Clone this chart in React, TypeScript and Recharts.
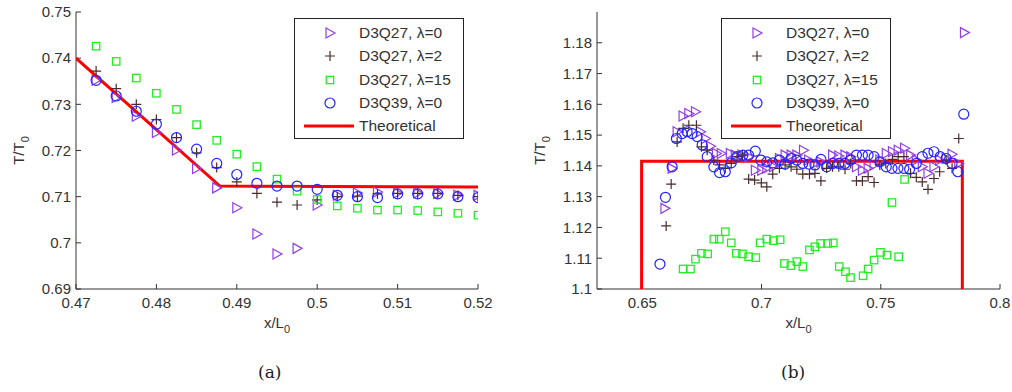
import React from 'react'
import { ComposedChart, Scatter, XAxis, YAxis, Label } from 'recharts'

// panel (a)
const aXTicks = [0.47, 0.48, 0.49, 0.5, 0.51, 0.52]
const aYTicks = [0.69, 0.7, 0.71, 0.72, 0.73, 0.74, 0.75]
const aX = [0.4725, 0.475, 0.4775, 0.48, 0.4825, 0.485, 0.4875, 0.49, 0.4925, 0.495, 0.4975, 0.5, 0.5025, 0.505, 0.5075, 0.51, 0.5125, 0.515, 0.5175, 0.52]
const aQ27L0 = [0.7352, 0.7315, 0.7274, 0.7239, 0.7201, 0.7161, 0.7119, 0.7076, 0.7019, 0.6976, 0.6988, 0.7082, 0.7103, 0.7108, 0.711, 0.7108, 0.7108, 0.7107, 0.7103, 0.7103]
const aQ27L2 = [0.7372, 0.7334, 0.73, 0.7267, 0.7228, 0.7195, 0.7163, 0.7132, 0.7107, 0.7088, 0.7082, 0.7093, 0.71, 0.7101, 0.7106, 0.7107, 0.7107, 0.7107, 0.7103, 0.71]
const aQ27L15 = [0.7426, 0.7393, 0.7357, 0.7324, 0.7289, 0.7256, 0.7222, 0.7192, 0.7165, 0.7138, 0.7112, 0.7094, 0.708, 0.7075, 0.7071, 0.7071, 0.707, 0.7067, 0.7064, 0.706]
const aQ39L0 = [0.7352, 0.7318, 0.7285, 0.7257, 0.7228, 0.7203, 0.7172, 0.7148, 0.7129, 0.7123, 0.7123, 0.7116, 0.7103, 0.71, 0.7098, 0.7106, 0.7106, 0.7106, 0.71, 0.7098]
const aTheoryX = [0.47, 0.4879, 0.52]
const aTheoryY = [0.74, 0.7123, 0.7121]

// panel (b)
const bXTicks = [0.65, 0.7, 0.75, 0.8]
const bYTicks = [1.1, 1.11, 1.12, 1.13, 1.14, 1.15, 1.16, 1.17, 1.18]
const bQ27L0X = [0.6595, 0.6625, 0.6646, 0.6671, 0.6695, 0.6723, 0.6744, 0.6765, 0.6786, 0.6811, 0.6831, 0.6869, 0.689, 0.6918, 0.6946, 0.6974, 0.7001, 0.7022, 0.705, 0.7075, 0.7099, 0.7124, 0.7148, 0.7176, 0.7197, 0.7224, 0.7249, 0.7273, 0.7298, 0.7324, 0.735, 0.7374, 0.7398, 0.7423, 0.7447, 0.7472, 0.7496, 0.7523, 0.7549, 0.7573, 0.76, 0.7625, 0.7649, 0.7674, 0.7698, 0.7723, 0.7747, 0.7774, 0.7799, 0.7827, 0.7851]
const bQ27L0Y = [1.1262, 1.1392, 1.1511, 1.1562, 1.157, 1.1576, 1.1511, 1.1489, 1.1464, 1.144, 1.144, 1.144, 1.1435, 1.1435, 1.143, 1.1386, 1.1386, 1.1392, 1.1397, 1.1424, 1.1435, 1.1435, 1.1435, 1.1451, 1.1419, 1.1408, 1.1413, 1.1403, 1.1435, 1.1432, 1.1435, 1.143, 1.1397, 1.1386, 1.1392, 1.1403, 1.1419, 1.144, 1.1446, 1.1451, 1.1457, 1.1435, 1.1419, 1.1397, 1.1376, 1.1397, 1.1419, 1.1424, 1.1438, 1.1408, 1.1833]
const bQ27L2X = [0.66, 0.6621, 0.6646, 0.6671, 0.6695, 0.6727, 0.6748, 0.6772, 0.68, 0.6824, 0.6848, 0.6873, 0.6897, 0.692, 0.6946, 0.6971, 0.6999, 0.7022, 0.7047, 0.7075, 0.7099, 0.7124, 0.7148, 0.7173, 0.7201, 0.7224, 0.7249, 0.7273, 0.7298, 0.7324, 0.735, 0.7374, 0.7398, 0.7423, 0.7447, 0.7472, 0.7496, 0.7521, 0.7549, 0.7573, 0.7597, 0.7625, 0.7649, 0.7674, 0.7698, 0.7723, 0.7747, 0.7774, 0.7799, 0.7827]
const bQ27L2Y = [1.1205, 1.1341, 1.1478, 1.1522, 1.1532, 1.1532, 1.1462, 1.1451, 1.1419, 1.1403, 1.1392, 1.1408, 1.143, 1.1435, 1.1357, 1.1354, 1.1345, 1.1332, 1.1373, 1.1392, 1.1403, 1.1397, 1.1389, 1.1373, 1.1373, 1.1376, 1.1351, 1.1392, 1.1397, 1.1397, 1.1389, 1.1408, 1.1351, 1.1351, 1.1365, 1.1346, 1.1403, 1.1408, 1.1421, 1.143, 1.143, 1.1376, 1.1363, 1.1348, 1.1324, 1.1359, 1.1381, 1.1419, 1.1392, 1.1489]
const bQ27L15X = [0.6671, 0.6702, 0.6723, 0.6748, 0.6774, 0.68, 0.6823, 0.6848, 0.6873, 0.6894, 0.692, 0.6946, 0.6976, 0.6994, 0.7022, 0.705, 0.7078, 0.7096, 0.7123, 0.7148, 0.7173, 0.7201, 0.7224, 0.7248, 0.7277, 0.7301, 0.7326, 0.7352, 0.7373, 0.7426, 0.7447, 0.7472, 0.7499, 0.7526, 0.7547, 0.7575, 0.76]
const bQ27L15Y = [1.1065, 1.1065, 1.1097, 1.1116, 1.1114, 1.1162, 1.1162, 1.1186, 1.115, 1.1116, 1.1114, 1.1105, 1.1102, 1.115, 1.1162, 1.1157, 1.116, 1.1083, 1.1076, 1.1089, 1.1073, 1.1127, 1.1137, 1.1148, 1.1148, 1.115, 1.1073, 1.1056, 1.1037, 1.1043, 1.1065, 1.1094, 1.1119, 1.111, 1.1281, 1.1105, 1.1356]
const bQ39L0X = [0.6574, 0.6597, 0.6625, 0.6643, 0.6667, 0.6688, 0.6709, 0.673, 0.6751, 0.6772, 0.68, 0.6824, 0.6848, 0.6873, 0.6897, 0.6922, 0.6946, 0.6974, 0.6997, 0.7022, 0.7047, 0.7075, 0.7099, 0.7124, 0.7148, 0.7173, 0.7199, 0.7224, 0.7249, 0.7273, 0.7298, 0.7324, 0.735, 0.7373, 0.7398, 0.7423, 0.7447, 0.7472, 0.7496, 0.7523, 0.7547, 0.7572, 0.7597, 0.7621, 0.7649, 0.7674, 0.7698, 0.7723, 0.7749, 0.7774, 0.7799, 0.7823, 0.7848]
const bQ39L0Y = [1.1081, 1.1298, 1.1397, 1.1489, 1.1505, 1.1511, 1.1505, 1.1495, 1.1468, 1.143, 1.1397, 1.1378, 1.1381, 1.141, 1.143, 1.1435, 1.1435, 1.1448, 1.1419, 1.1413, 1.141, 1.1419, 1.1406, 1.1424, 1.1419, 1.1408, 1.1406, 1.1403, 1.1421, 1.1397, 1.1408, 1.1408, 1.1408, 1.1419, 1.1435, 1.1435, 1.1435, 1.143, 1.1413, 1.1397, 1.1392, 1.1392, 1.1392, 1.1389, 1.1408, 1.143, 1.1441, 1.1446, 1.143, 1.1424, 1.1408, 1.1381, 1.1568]
const bTheoryX = [0.6497, 0.6497, 0.7842, 0.7842]
const bTheoryY = [1.1, 1.1415, 1.1415, 1.1]

const seriesNames = ['D3Q27, \u03bb=0', 'D3Q27, \u03bb=2', 'D3Q27, \u03bb=15', 'D3Q39, \u03bb=0', 'Theoretical']

const PURPLE = '#9140e6'
const BROWN = '#4a2c2c'
const GREEN = '#22ee22'
const BLUE = '#2424ff'
const RED = '#ff0000'
const INK = '#333'
const FONT = '"Liberation Sans", Arial, sans-serif'

const zip = (xs: number[], ys: number[]) => xs.map((x, i) => ({ x, y: ys[i] }))

const Tri = (p: any) => (
  <path d={`M${p.cx - 4},${p.cy - 5}L${p.cx + 5},${p.cy}L${p.cx - 4},${p.cy + 5}Z`} fill="none" stroke={PURPLE} strokeWidth={1.2} />
)
const Plus = (p: any) => (
  <path d={`M${p.cx - 5},${p.cy}H${p.cx + 5}M${p.cx},${p.cy - 5}V${p.cy + 5}`} stroke={BROWN} strokeWidth={1.2} />
)
const Sq = (p: any) => (
  <rect x={p.cx - 3.7} y={p.cy - 3.7} width={7.4} height={7.4} fill="none" stroke={GREEN} strokeWidth={1.3} />
)
const Circ = (p: any) => <circle cx={p.cx} cy={p.cy} r={5} fill="none" stroke={BLUE} strokeWidth={1.2} />
const NoDot = () => <g />

const markers = [Tri, Plus, Sq, Circ]

function LegendBox({ left }: { left: number }) {
  return (
    <div style={{
      position: 'absolute', left, top: 18, width: 168, height: 119, background: '#fff',
      border: '1px solid #222', fontFamily: FONT, fontSize: 15.5, color: INK,
    }}>
      {seriesNames.map((name, i) => (
        <div key={name} style={{ position: 'absolute', top: 3 + i * 23.3, left: 0, height: 22, width: 168 }}>
          <svg width={60} height={22} style={{ position: 'absolute', left: 0, top: 0 }}>
            {i < 4 ? React.createElement(markers[i], { cx: 35, cy: 11 }) : <line x1={9} x2={59} y1={11} y2={11} stroke={RED} strokeWidth={3} />}
          </svg>
          <span style={{ position: 'absolute', left: 64, top: 2, whiteSpace: 'nowrap' }}>{name}</span>
        </div>
      ))}
    </div>
  )
}

const yTitle = (props: any) => {
  const vb = props.viewBox
  return (
    <text transform={`translate(${vb.x + 8},${vb.y + vb.height / 2}) rotate(-90)`} textAnchor="middle" fontSize={15} fontFamily={FONT} fill={INK}>
      T/T<tspan dy={5} fontSize={11}>0</tspan>
    </text>
  )
}
const xTitle = (props: any) => {
  const vb = props.viewBox
  return (
    <text x={vb.x + vb.width / 2} y={vb.y + 39} textAnchor="middle" fontSize={15} fontFamily={FONT} fill={INK}>
      x/L<tspan dy={5} fontSize={11}>0</tspan>
    </text>
  )
}

const tickStyle = { fontSize: 15, fill: INK, fontFamily: FONT }

function Panel(props: {
  left: number; width: number; margin: any; xDomain: number[]; yDomain: number[];
  xTicks: number[]; yTicks: number[]; series: { x: number; y: number }[][]; theory: { x: number; y: number }[]
}) {
  const { left, width, margin, xDomain, yDomain, xTicks, yTicks, series, theory } = props
  return (
    <div style={{ position: 'absolute', left, top: 0 }}>
      <ComposedChart width={width} height={340} margin={margin}>
        <XAxis dataKey="x" type="number" domain={xDomain} ticks={xTicks} interval={0} tickFormatter={v => String(v)}
          height={40} tickSize={-5} tickMargin={13} tick={tickStyle} stroke={INK} allowDataOverflow>
          <Label content={xTitle} />
        </XAxis>
        <XAxis xAxisId="top" orientation="top" type="number" domain={xDomain} ticks={xTicks} interval={0}
          height={0} tickSize={-5} tick={false} stroke={INK} allowDataOverflow />
        <YAxis dataKey="y" type="number" domain={yDomain} ticks={yTicks} interval={0} tickFormatter={v => String(v)}
          width={60} tickSize={-5} tickMargin={10} tick={tickStyle} stroke={INK} allowDataOverflow>
          <Label content={yTitle} />
        </YAxis>
        <YAxis yAxisId="right" orientation="right" type="number" domain={yDomain} ticks={yTicks} interval={0}
          width={0} tickSize={-5} tick={false} stroke={INK} allowDataOverflow />
        <Scatter data={theory} line={{ stroke: RED, strokeWidth: 3 }} shape={NoDot} isAnimationActive={false} />
        {series.map((d, i) => (
          <Scatter key={i} data={d} shape={markers[i]} isAnimationActive={false} />
        ))}
      </ComposedChart>
    </div>
  )
}

export default function App() {
  return (
    <div style={{ position: 'absolute', left: 0, top: 0, width: 1012, height: 392, background: '#fff' }}>
      <Panel
        left={0} width={500} margin={{ top: 12, right: 22, bottom: 11, left: 16 }}
        xDomain={[0.47, 0.52]} yDomain={[0.69, 0.75]} xTicks={aXTicks} yTicks={aYTicks}
        series={[zip(aX, aQ27L0), zip(aX, aQ27L2), zip(aX, aQ27L15), zip(aX, aQ39L0)]}
        theory={zip(aTheoryX, aTheoryY)}
      />
      <Panel
        left={500} width={512} margin={{ top: 12, right: 12, bottom: 11, left: 37 }}
        xDomain={[0.631, 0.8]} yDomain={[1.1, 1.19]} xTicks={bXTicks} yTicks={bYTicks}
        series={[zip(bQ27L0X, bQ27L0Y), zip(bQ27L2X, bQ27L2Y), zip(bQ27L15X, bQ27L15Y), zip(bQ39L0X, bQ39L0Y)]}
        theory={zip(bTheoryX, bTheoryY)}
      />
      <LegendBox left={294} />
      <LegendBox left={721} />
      <div style={{ position: 'absolute', left: 258, top: 362, fontFamily: '"DejaVu Serif", "Liberation Serif", serif', fontSize: 17, color: '#222' }}>(a)</div>
      <div style={{ position: 'absolute', left: 781, top: 362, fontFamily: '"DejaVu Serif", "Liberation Serif", serif', fontSize: 17, color: '#222' }}>(b)</div>
    </div>
  )
}
